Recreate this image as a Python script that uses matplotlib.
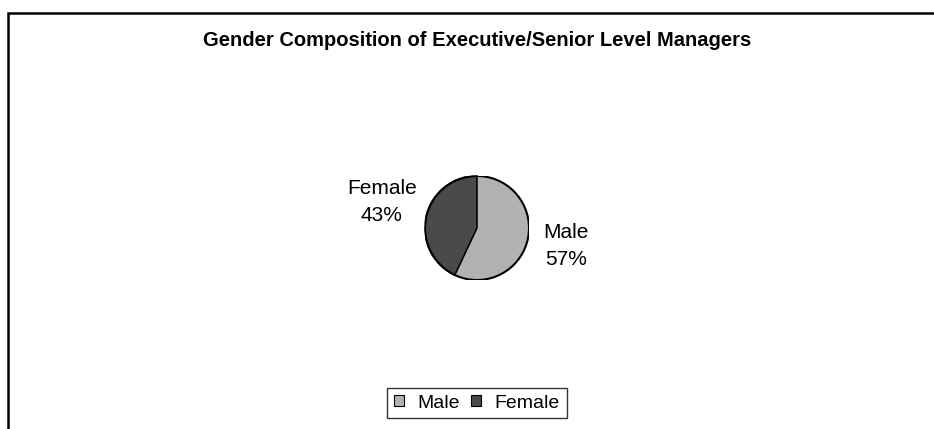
import matplotlib.pyplot as plt
from matplotlib.patches import Rectangle

# data
labels = ['Male', 'Female']
shares = [57, 43]
colors = ['#b2b2b2', '#4a4a4a']
title = 'Gender Composition of Executive/Senior Level Managers'

W, H = 934, 429
fig = plt.figure(figsize=(W / 100, H / 100), dpi=100)
fig.patch.set_facecolor('white')

# outer chart frame (cut off at right and bottom in the reference)
fig.patches.append(Rectangle((8 / W, -0.1), 1.2, 1 - 13 / H + 0.1,
                             transform=fig.transFigure, fill=False,
                             edgecolor='black', linewidth=1.8))

fig.text(477 / W, 1 - 40 / H, title, ha='center', va='center',
         fontsize=14.5, fontweight='bold', family='Liberation Sans')

# pie axes placed in pixels: centre (477, 228), radius 52
r = 52
ax = fig.add_axes([(477 - r) / W, 1 - (228 + r) / H, 2 * r / W, 2 * r / H])
wedges, texts = ax.pie(shares, colors=colors, startangle=90, counterclock=False,
                       labels=[f'{l}\n{s}%' for l, s in zip(labels, shares)],
                       wedgeprops=dict(edgecolor='black', linewidth=1.2),
                       textprops=dict(fontsize=15, family='Liberation Sans',
                                      ha='center', va='center',
                                      linespacing=1.55))
ax.set_xlim(-1, 1)
ax.set_ylim(-1, 1)
ax.set_aspect('auto')
texts[0].set_position((1.71, -0.34))
texts[1].set_position((-1.83, 0.5))
wedges[0].set_edgecolor('white')
wedges[0].set_linewidth(1.0)
wedges[1].set_linewidth(1.2)
ax.add_patch(plt.Circle((0, 0), 1, fill=False, edgecolor='black', linewidth=1.5))

leg = fig.legend(wedges, labels, loc='center', ncol=2,
                 bbox_to_anchor=(477 / W, 1 - 403 / H),
                 frameon=True, fancybox=False, edgecolor='black',
                 prop=dict(family='Liberation Sans', size=14),
                 handlelength=0.5, handleheight=0.5, handletextpad=0.7,
                 columnspacing=0.6, borderpad=0.35)
leg.get_frame().set_linewidth(1.0)
for h in leg.legend_handles:
    h.set_edgecolor('black')
    h.set_linewidth(0.8)

fig.savefig('out.png', dpi=100)
